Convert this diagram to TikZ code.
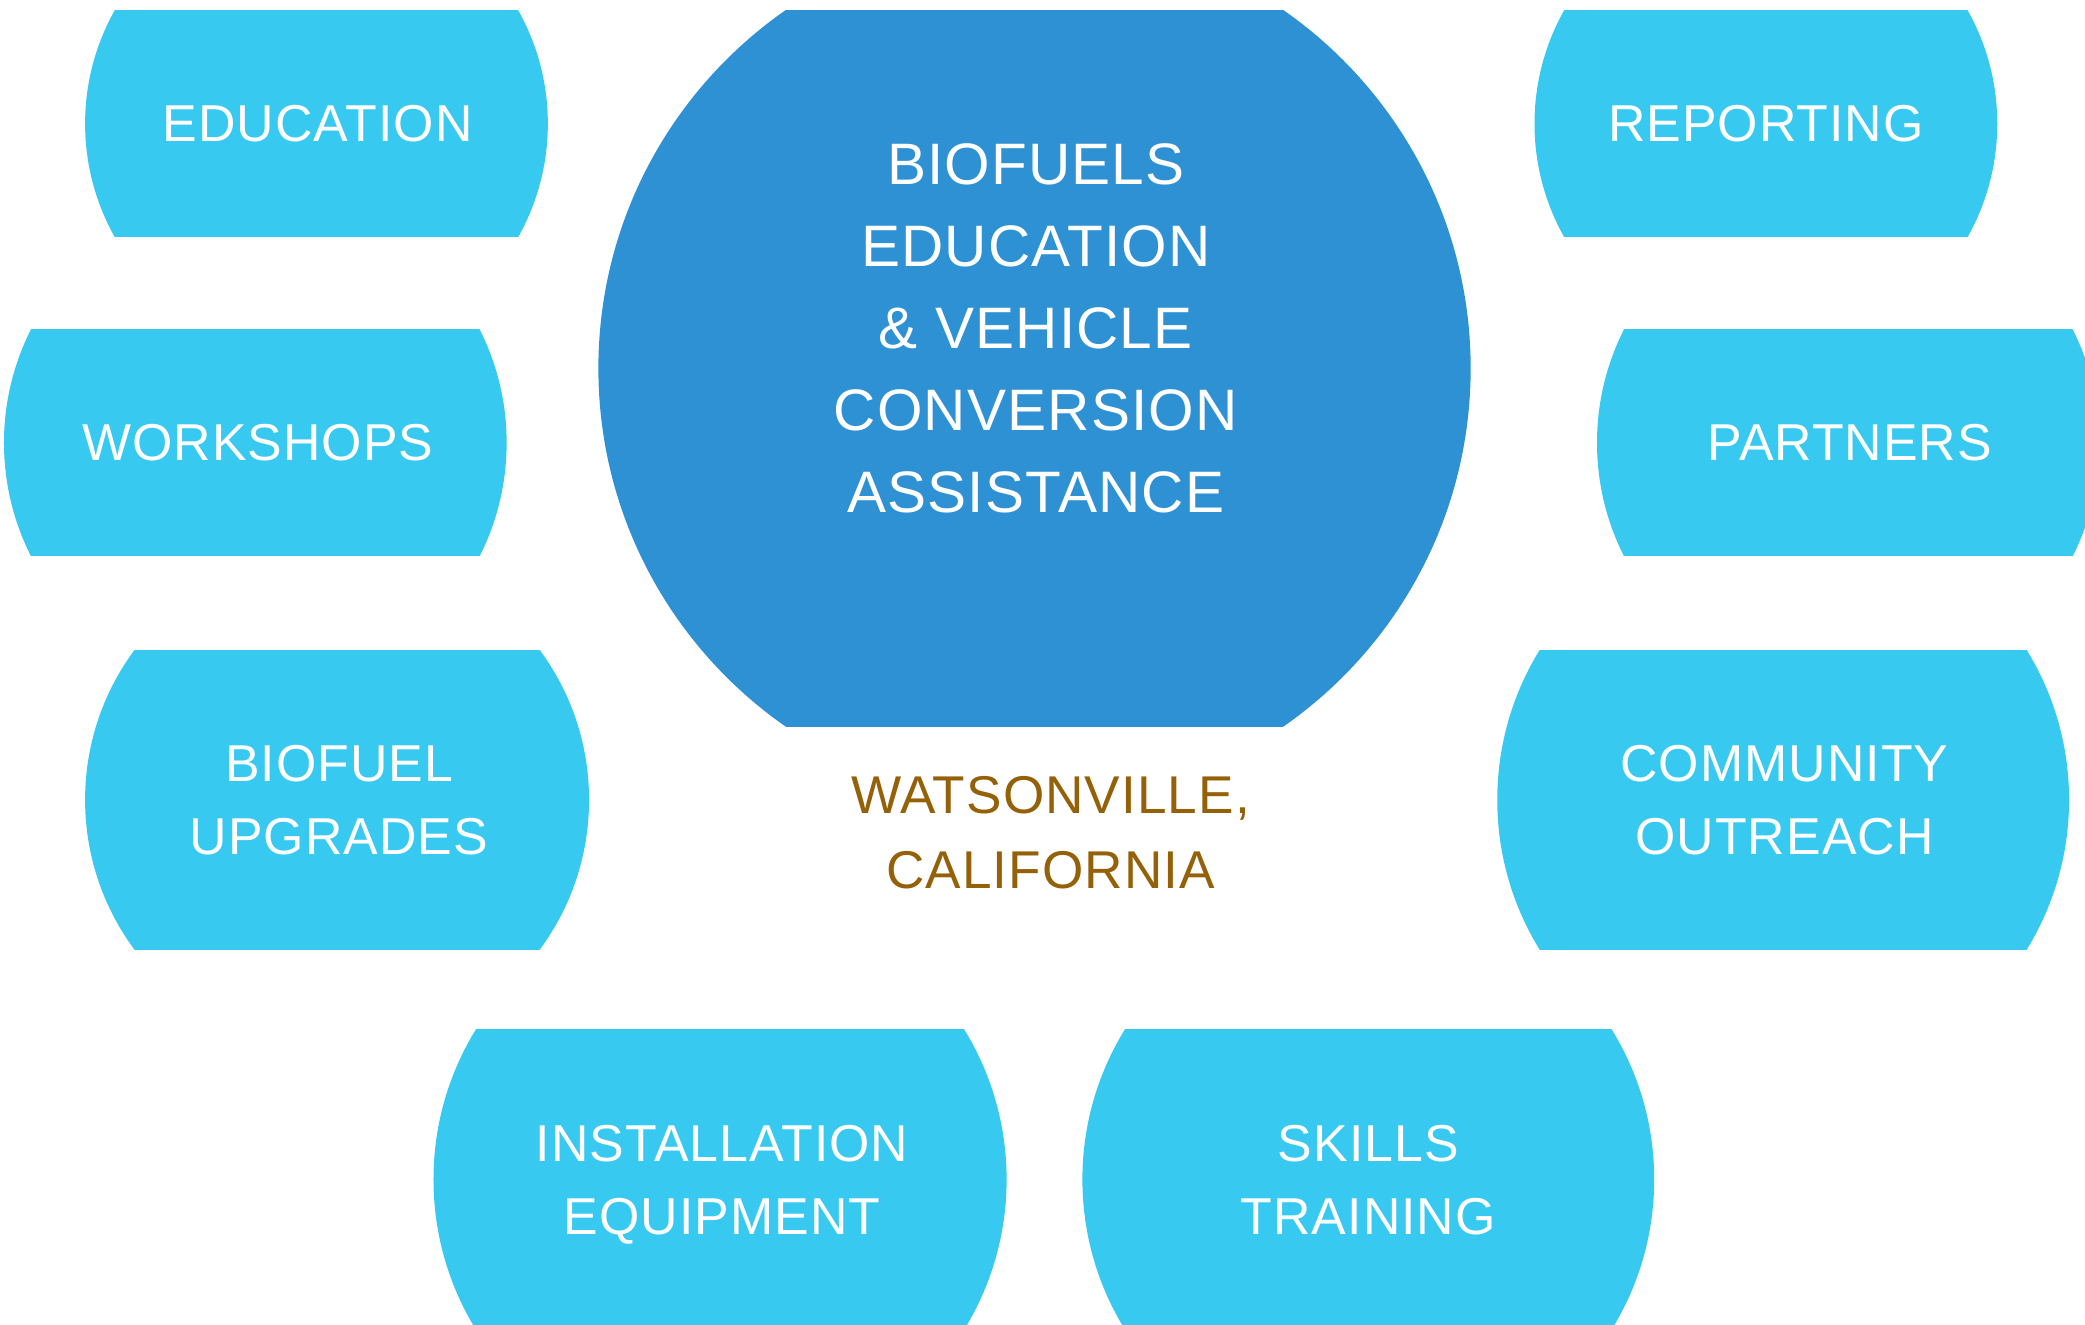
\documentclass[tikz,border=0pt]{standalone}
\usepackage{fontspec}
\setmainfont{Liberation Sans}[LetterSpace=2]
\definecolor{lightblue}{HTML}{38C9F0}
\definecolor{darkblue}{HTML}{2D91D4}
\definecolor{brownt}{HTML}{946108}
\newcommand{\cutdisk}[5]{%
  \begin{scope}
    \clip (#1-#3,#2-#4) rectangle (#1+#3,#2+#4);
    \fill[#5] (#1,#2) circle (#3pt);
  \end{scope}}
\tikzset{
  sidelabel/.style={text=white, align=center, inner sep=0pt, text depth=0pt,
    font=\fontsize{39}{55}\selectfont},
  mainlabel/.style={text=white, align=center, inner sep=0pt, text depth=0pt,
    font=\fontsize{44}{61.7}\selectfont},
  placelabel/.style={text=brownt, align=center, inner sep=0pt, text depth=0pt,
    font=\fontsize{40}{56}\selectfont}
}
\begin{document}
\begin{tikzpicture}[x=1pt,y=-1pt]
\useasboundingbox (0,0) rectangle (1568,996);
% shapes
\cutdisk{778}{277}{328}{269}{darkblue}
\cutdisk{238}{93}{174}{85}{lightblue}
\cutdisk{192}{333}{189}{85}{lightblue}
\cutdisk{253.5}{601.5}{189.5}{112.5}{lightblue}
\cutdisk{541.5}{887}{215.5}{113}{lightblue}
\cutdisk{1029}{887}{215}{113}{lightblue}
\cutdisk{1328}{93}{174}{85}{lightblue}
\cutdisk{1390}{333}{189}{85}{lightblue}
\cutdisk{1341}{601.5}{215}{112.5}{lightblue}
% labels
\node[mainlabel] (main) at (779,246.5) {BIOFUELS\\EDUCATION\\\& VEHICLE\\CONVERSION\\ASSISTANCE};
\node[placelabel] (place) at (790,626) {WATSONVILLE,\\CALIFORNIA};
\node[sidelabel] (edu) at (239,93) {EDUCATION};
\node[sidelabel] (work) at (194,333) {WORKSHOPS};
\node[sidelabel] (upg) at (255,601.5) {BIOFUEL\\UPGRADES};
\node[sidelabel] (inst) at (543,887.5) {INSTALLATION\\EQUIPMENT};
\node[sidelabel] (skills) at (1029,887.5) {SKILLS\\TRAINING};
\node[sidelabel] (rep) at (1328,93) {REPORTING};
\node[sidelabel] (part) at (1391,333) {PARTNERS};
\node[sidelabel] (comm) at (1342,601.5) {COMMUNITY\\OUTREACH};
\end{tikzpicture}
\end{document}
